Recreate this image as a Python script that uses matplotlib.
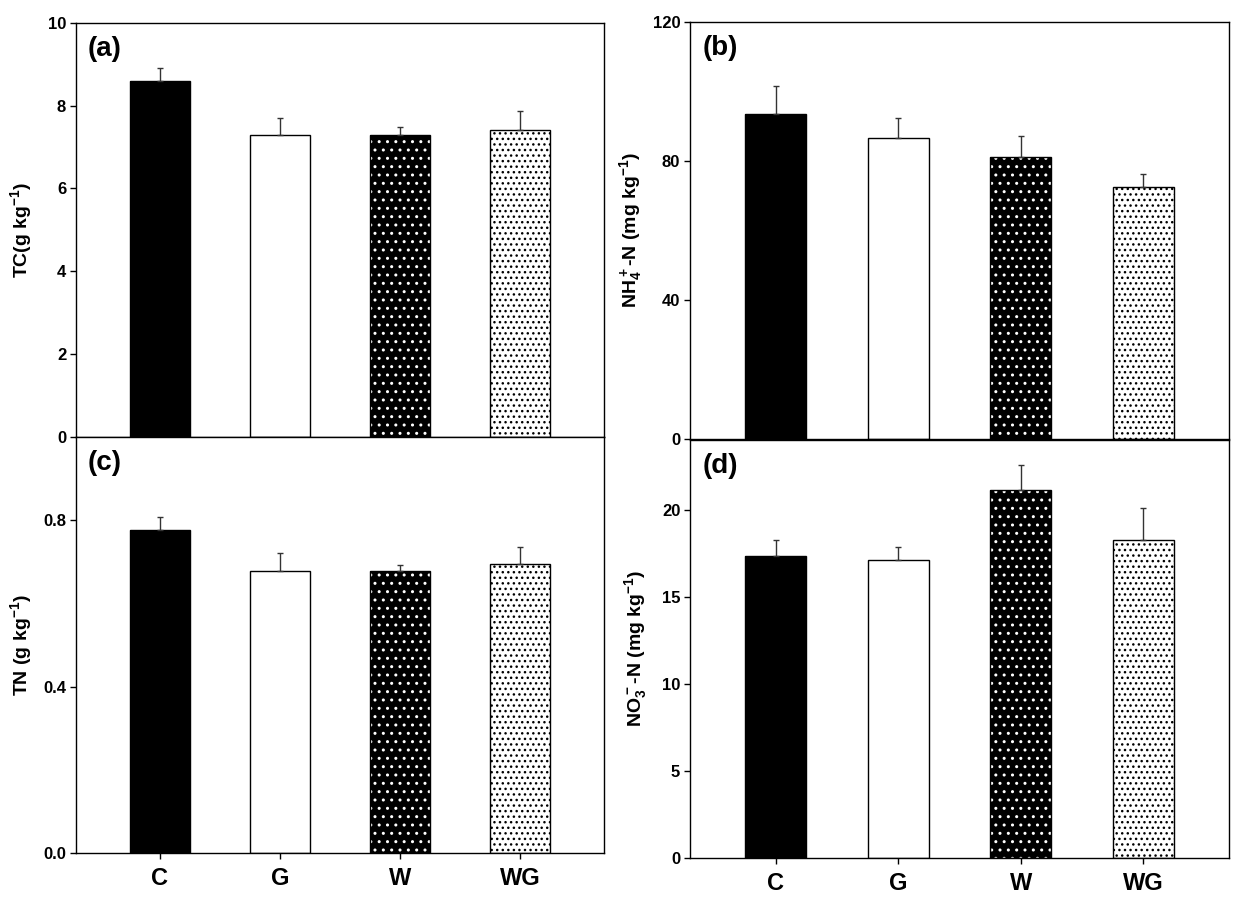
import numpy as np
import matplotlib
matplotlib.use("Agg")
from matplotlib import pyplot as plt

plt.rcParams["font.family"] = ["Liberation Sans", "DejaVu Sans"]
plt.rcParams["font.weight"] = "bold"
plt.rcParams["mathtext.fontset"] = "custom"
plt.rcParams["mathtext.rm"] = "Liberation Sans:bold"
plt.rcParams["mathtext.bf"] = "Liberation Sans:bold"
plt.rcParams["mathtext.default"] = "bf"
plt.rcParams["hatch.linewidth"] = 1.0

treatments = ["C", "G", "W", "WG"]

tc = [8.60, 7.30, 7.29, 7.42]
tc_err = [0.30, 0.41, 0.20, 0.46]

nh4 = [93.4, 86.5, 81.1, 72.6]
nh4_err = [8.0, 5.7, 6.0, 3.5]

tn = [0.776, 0.678, 0.678, 0.695]
tn_err = [0.031, 0.043, 0.015, 0.041]

no3 = [17.36, 17.13, 21.11, 18.28]
no3_err = [0.92, 0.71, 1.47, 1.82]

# facecolor, hatch, hatch colour
styles = [("black", "", "black"),
          ("white", "", "black"),
          ("black", "..", "white"),
          ("white", "...", "black")]

fig = plt.figure(figsize=(12.43, 9.0), dpi=100)

panels = [
    # rect, values, errors, ylim, yticks, ylabel, tag, show x labels, label x
    ([0.0611, 0.5144, 0.4248, 0.4604], tc, tc_err, (0, 10), [0, 2, 4, 6, 8, 10],
     r"TC(g kg$^{-1}$)", "(a)", False, -0.080),
    ([0.5551, 0.5122, 0.4336, 0.4637], nh4, nh4_err, (0, 120), [0, 40, 80, 120],
     r"NH$_4^+$-N (mg kg$^{-1}$)", "(b)", False, -0.086),
    ([0.0611, 0.0522, 0.4248, 0.4622], tn, tn_err, (0, 1.0), [0.0, 0.4, 0.8],
     r"TN (g kg$^{-1}$)", "(c)", True, -0.080),
    ([0.5551, 0.0470, 0.4336, 0.4641], no3, no3_err, (0, 24), [0, 5, 10, 15, 20],
     r"NO$_3^-$-N (mg kg$^{-1}$)", "(d)", True, -0.076),
]

x = np.arange(len(treatments))

for rect, vals, errs, ylim, yticks, ylabel, tag, show_x, lab_x in panels:
    ax = fig.add_axes(rect)
    for i in range(len(treatments)):
        fc, hatch, hc = styles[i]
        ax.bar(x[i], vals[i], width=0.5, color=fc, hatch=hatch,
               edgecolor=hc, linewidth=0, zorder=2)
        ax.bar(x[i], vals[i], width=0.5, fill=False,
               edgecolor="black", linewidth=1.0, zorder=3)
    ax.errorbar(x, vals, yerr=[np.zeros(len(errs)), errs], fmt="none",
                ecolor="#333333", elinewidth=1.0, capsize=2.5, capthick=1.0,
                zorder=4)
    ax.set_xlim(-0.7, 3.7)
    ax.set_ylim(*ylim)
    ax.set_yticks(yticks)
    if ylim[1] == 1.0:
        ax.set_yticklabels(["%.1f" % t for t in yticks])
    ax.tick_params(axis="y", direction="out", length=4, width=1,
                   labelsize=12, pad=3)
    if show_x:
        ax.set_xticks(x)
        ax.set_xticklabels(treatments, fontsize=17, fontweight="bold")
        ax.tick_params(axis="x", direction="out", length=4, width=1, pad=6)
    else:
        ax.set_xticks([])
    for lab in ax.get_yticklabels():
        lab.set_fontweight("bold")
    for sp in ax.spines.values():
        sp.set_linewidth(1.0)
        sp.set_color("black")
    ax.set_ylabel(ylabel, fontsize=14, fontweight="bold")
    ax.yaxis.set_label_coords(lab_x, 0.5)
    ax.text(0.023, 0.968, tag, transform=ax.transAxes, ha="left", va="top",
            fontsize=20, fontweight="bold")

plt.savefig("out.png", dpi=100)
